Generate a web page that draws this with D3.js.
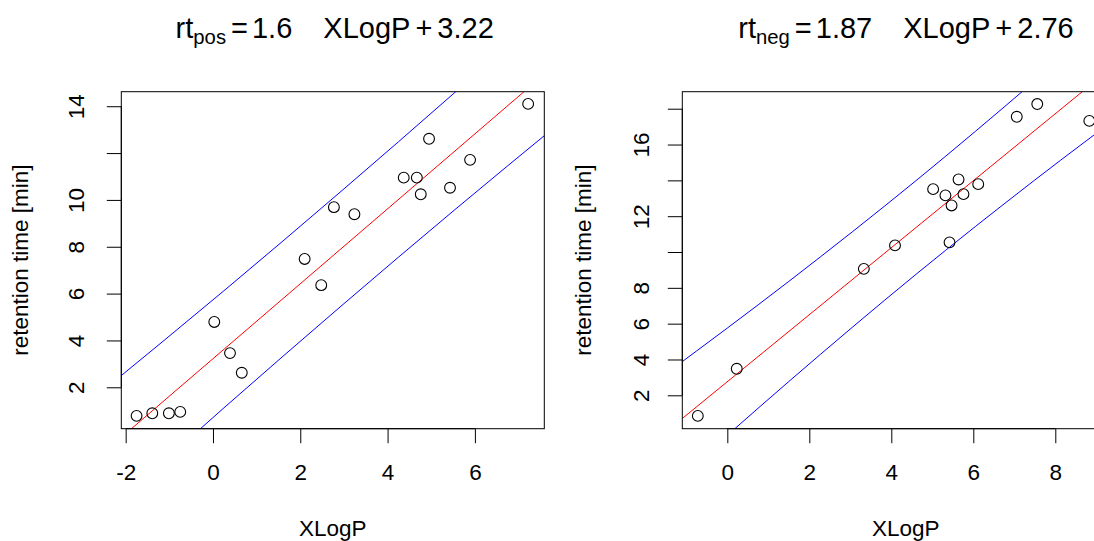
<!DOCTYPE html>
<html>
<head>
<meta charset="utf-8">
<script src="https://cdn.jsdelivr.net/npm/d3@7"></script>
<style>
  html, body { margin: 0; padding: 0; background: #fff; }
  svg text { font-family: "Liberation Sans", Arial, Helvetica, sans-serif; fill: #000; }
</style>
</head>
<body>
<div id="chart"></div>
<script>
// Two-panel scatter of retention time vs XLogP, each with a fitted line
// (red) and its prediction band (blue).

// --- positive mode -------------------------------------------------------
var posX = [-1.75, -1.39, -1.01, -0.75, 0.03, 0.39, 0.66, 2.10, 2.48, 2.77,
            3.24, 4.37, 4.67, 4.76, 4.95, 5.43, 5.89, 7.22];
var posY = [0.78, 0.89, 0.89, 0.95, 4.79, 3.46, 2.62, 7.48, 6.36, 9.69,
            9.39, 10.95, 10.95, 10.24, 12.61, 10.52, 11.71, 14.10];
var posFit = { slope: 1.6, intercept: 3.22 };
var posBandX = [-2.5, 0.25, 3.0, 5.5, 8.0];
var posBandHi = [1.89, 6.12, 10.47, 14.52, 18.67];
var posBandLo = [-3.45, 1.12, 5.57, 9.52, 13.37];
var posXTicks = [-2, 0, 2, 4, 6];
var posYTicks = [2, 4, 6, 8, 10, 12, 14];
var posYLabels = [2, 4, 6, 8, 10, 14];

// --- negative mode -------------------------------------------------------
var negX = [-0.72, 0.23, 3.33, 4.09, 5.02, 5.32, 5.42, 5.47, 5.64, 5.76,
            6.12, 7.06, 7.56, 8.83];
var negY = [0.85, 3.48, 9.06, 10.37, 13.51, 13.16, 10.54, 12.60, 14.05, 13.23,
            13.79, 17.55, 18.26, 17.32];
var negFit = { slope: 1.87, intercept: 2.76 };
var negBandX = [-1.5, 1.5, 4.6, 7.5, 10.0];
var negBandHi = [3.20, 8.36, 13.98, 19.56, 24.58];
var negBandLo = [-3.29, 2.77, 8.75, 14.02, 18.34];
var negXTicks = [0, 2, 4, 6, 8];
var negYTicks = [2, 4, 6, 8, 10, 12, 14, 16, 18];
var negYLabels = [2, 4, 6, 8, 12, 16];

var W = 1094, H = 541;
var FONT = 22.5, TITLE_FONT = 29;

var svg = d3.select('#chart').append('svg')
    .attr('width', W).attr('height', H)
    .attr('viewBox', '0 0 ' + W + ' ' + H);
svg.append('rect').attr('width', W).attr('height', H).attr('fill', '#fff');

// plain hyphen for negatives, like R
function num(d) { return String(d); }

function panel(opt) {
    var x = d3.scaleLinear().domain(opt.xDomain).range([opt.left, opt.right]);
    var y = d3.scaleLinear().domain(opt.yDomain).range([opt.bottom, opt.top]);
    var g = svg.append('g');

    var clipId = 'clip-' + opt.id;
    svg.append('clipPath').attr('id', clipId)
        .append('rect')
        .attr('x', opt.left).attr('y', opt.top)
        .attr('width', opt.right - opt.left).attr('height', opt.bottom - opt.top);
    var inner = g.append('g').attr('clip-path', 'url(#' + clipId + ')');

    // fitted line across the whole x range
    var xd = x.domain();
    inner.append('line')
        .attr('x1', x(xd[0])).attr('x2', x(xd[1]))
        .attr('y1', y(opt.fit.slope * xd[0] + opt.fit.intercept))
        .attr('y2', y(opt.fit.slope * xd[1] + opt.fit.intercept))
        .attr('stroke', '#ff0000').attr('stroke-width', 1);

    // prediction band
    var band = d3.line()
        .x(function (d) { return x(d[0]); })
        .y(function (d) { return y(d[1]); })
        .curve(d3.curveMonotoneX);
    [opt.bandHi, opt.bandLo].forEach(function (vals) {
        inner.append('path')
            .datum(opt.bandX.map(function (v, i) { return [v, vals[i]]; }))
            .attr('d', band)
            .attr('fill', 'none')
            .attr('stroke', '#0000ff').attr('stroke-width', 1);
    });

    // points
    g.selectAll('circle.pt').data(opt.xs).enter().append('circle')
        .attr('class', 'pt')
        .attr('cx', function (d) { return x(d); })
        .attr('cy', function (d, i) { return y(opt.ys[i]); })
        .attr('r', 5.4)
        .attr('fill', 'none').attr('stroke', '#000').attr('stroke-width', 1.1);

    // box
    g.append('rect')
        .attr('x', opt.left).attr('y', opt.top)
        .attr('width', opt.right - opt.left).attr('height', opt.bottom - opt.top)
        .attr('fill', 'none').attr('stroke', '#000').attr('stroke-width', 1);

    // x axis
    var xAxis = g.append('g')
        .attr('transform', 'translate(0,' + opt.bottom + ')')
        .call(d3.axisBottom(x).tickValues(opt.xTicks).tickSize(14.5)
            .tickSizeOuter(0).tickFormat(num));
    // y axis
    var yAxis = g.append('g')
        .attr('transform', 'translate(' + opt.left + ',0)')
        .call(d3.axisLeft(y).tickValues(opt.yTicks).tickSize(14.5)
            .tickSizeOuter(0).tickFormat(function (d) {
                return opt.yLabels.indexOf(d) >= 0 ? num(d) : '';
            }));
    [xAxis, yAxis].forEach(function (a) {
        a.select('.domain').remove();
        a.selectAll('line').attr('stroke', '#000').attr('stroke-width', 1);
        a.selectAll('text').attr('font-size', FONT)
            .attr('font-family', '"Liberation Sans", Arial, sans-serif')
            .attr('fill', '#000');
    });
    // R-style axis line spanning first to last tick
    xAxis.append('line')
        .attr('x1', x(opt.xTicks[0])).attr('x2', x(opt.xTicks[opt.xTicks.length - 1]))
        .attr('stroke', '#000');
    yAxis.append('line')
        .attr('y1', y(opt.yTicks[0])).attr('y2', y(opt.yTicks[opt.yTicks.length - 1]))
        .attr('stroke', '#000');
    xAxis.selectAll('text').attr('dy', null).attr('y', opt.xLabelBase - opt.bottom);
    yAxis.selectAll('.tick text')
        .attr('x', null).attr('dy', null)
        .attr('text-anchor', 'middle')
        .attr('transform', 'translate(' + (opt.yLabelBase - opt.left) + ',0) rotate(-90)');

    // axis titles
    var cx = (opt.left + opt.right) / 2, cy = (opt.top + opt.bottom) / 2;
    svg.append('text')
        .attr('x', cx).attr('y', opt.xTitleBase)
        .attr('text-anchor', 'middle').attr('font-size', FONT)
        .text('XLogP');
    svg.append('text')
        .attr('transform', 'translate(' + opt.yTitleBase + ',' + cy + ') rotate(-90)')
        .attr('text-anchor', 'middle').attr('font-size', FONT)
        .text('retention time [min]');

    // main title: rt_sub = a  XLogP + b
    var t = svg.append('text')
        .attr('x', opt.titleX).attr('y', opt.titleBase)
        .attr('text-anchor', 'middle').attr('font-size', TITLE_FONT);
    t.append('tspan').text('rt');
    t.append('tspan').attr('font-size', TITLE_FONT * 0.7).attr('dy', 6).text(opt.sub);
    t.append('tspan').attr('dx', 5).attr('dy', -6).text('=');
    t.append('tspan').attr('dx', 4).text(opt.fit.slope);
    t.append('tspan').attr('dx', 31).text('XLogP');
    t.append('tspan').attr('dx', 5).text('+');
    t.append('tspan').attr('dx', 5).text(opt.fit.intercept);
}

panel({
    id: 'pos', sub: 'pos',
    xs: posX, ys: posY, fit: posFit,
    bandX: posBandX, bandHi: posBandHi, bandLo: posBandLo,
    xTicks: posXTicks, yTicks: posYTicks, yLabels: posYLabels,
    xDomain: [-2.1, 7.59], yDomain: [0.232, 14.62],
    left: 121.3, right: 544.3, top: 91.7, bottom: 428.7,
    xLabelBase: 480.5, yLabelBase: 84, xTitleBase: 535.5, yTitleBase: 28,
    titleX: 334.7, titleBase: 38
});
panel({
    id: 'neg', sub: 'neg',
    xs: negX, ys: negY, fit: negFit,
    bandX: negBandX, bandHi: negBandHi, bandLo: negBandLo,
    xTicks: negXTicks, yTicks: negYTicks, yLabels: negYLabels,
    xDomain: [-1.098, 9.8], yDomain: [0.136, 18.95],
    left: 682.3, right: 1129.1, top: 91.7, bottom: 428.7,
    xLabelBase: 480.5, yLabelBase: 648.8, xTitleBase: 535.5, yTitleBase: 591.3,
    titleX: 906, titleBase: 38
});
</script>
</body>
</html>
